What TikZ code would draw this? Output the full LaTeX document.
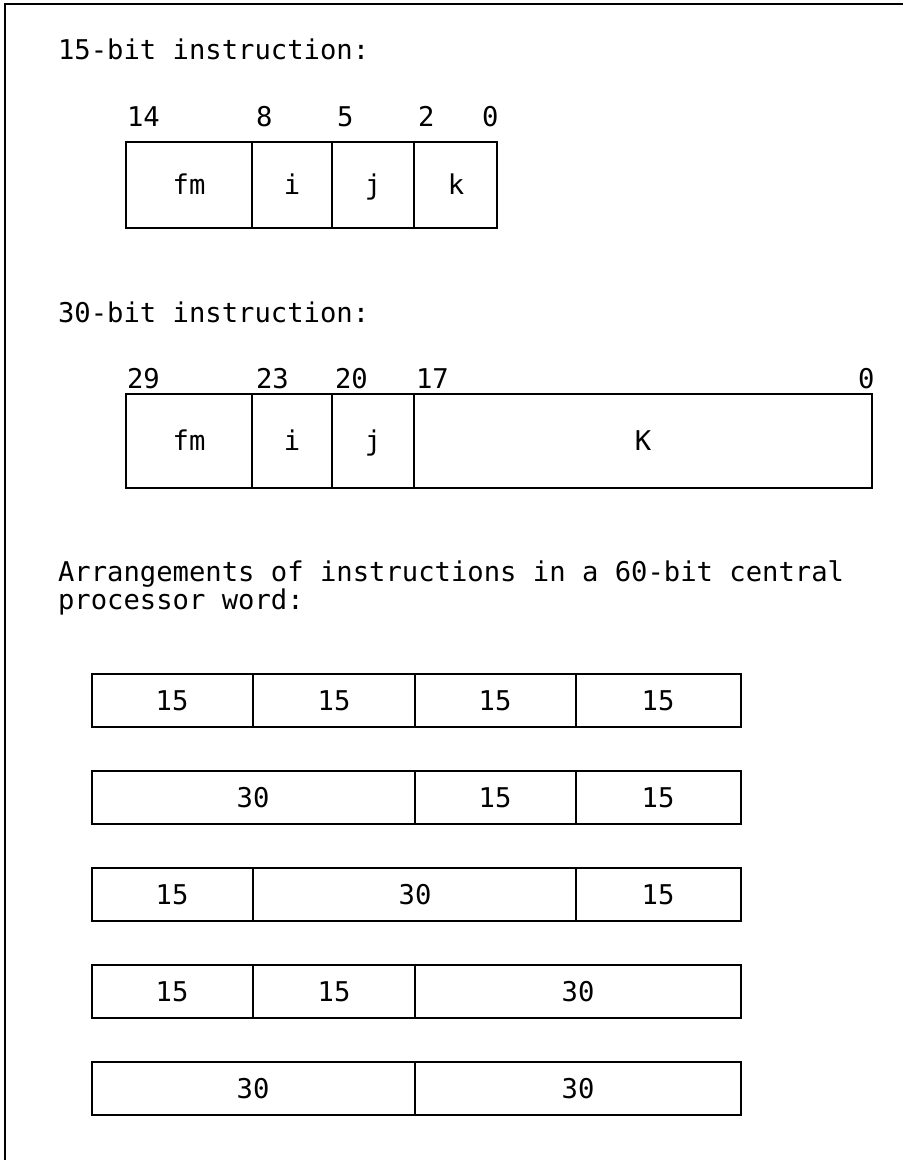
\documentclass[tikz,border=0pt]{standalone}
\usepackage{fontspec}
\setmonofont{DejaVu Sans Mono}

\tikzset{every picture/.style={line width=1.6pt}}
\tikzset{
  txt/.style={font=\ttfamily\fontsize{20.4}{27}\selectfont, inner sep=0pt, anchor=base west},
  fld/.style={font=\ttfamily\fontsize{20.4}{27}\selectfont, inner sep=0pt, anchor=base},
  outer/.style={line width=2pt}
}

\begin{document}
\begin{tikzpicture}[x=0.75pt,y=0.75pt,yscale=-1,xscale=1]
\useasboundingbox (0,0) rectangle (903,1160);

%Frame
\draw [line width=2.2pt] (5,1160) -- (5,4) -- (903,4) ;

%15-bit instruction
\node [txt] (title15) at (57,59) {15-bit instruction:};
\node [txt] (b14) at (126,126) {14};
\node [txt] (b8) at (255,126) {8};
\node [txt] (b5) at (336,126) {5};
\node [txt] (b2) at (417,126) {2};
\node [txt] (b0) at (481,126) {0};
%Shape: Rectangle
\draw [outer] (126,142) rectangle (497,228) ;
\draw   (252,142) -- (252,228) ;
\draw   (332,142) -- (332,228) ;
\draw   (414,142) -- (414,228) ;
\node [fld] (fmA) at (189,194) {fm};
\node [fld] (iA) at (292,194) {i};
\node [fld] (jA) at (373,194) {j};
\node [fld] (kA) at (456,194) {k};

%30-bit instruction
\node [txt] (title30) at (57,322) {30-bit instruction:};
\node [txt] (b29) at (126,388) {29};
\node [txt] (b23) at (255,388) {23};
\node [txt] (b20) at (334,388) {20};
\node [txt] (b17) at (415,388) {17};
\node [txt] (c0) at (857,388) {0};
%Shape: Rectangle
\draw [outer] (126,394) rectangle (872,488) ;
\draw   (252,394) -- (252,488) ;
\draw   (332,394) -- (332,488) ;
\draw   (414,394) -- (414,488) ;
\node [fld] (fmB) at (189,450) {fm};
\node [fld] (iB) at (292,450) {i};
\node [fld] (jB) at (373,450) {j};
\node [fld] (KB) at (643,450) {K};

%Arrangements
\node [txt] (arr1) at (57,581) {Arrangements of instructions in a 60-bit central};
\node [txt] (arr2) at (57,609) {processor word:};

%Row 1: 15 15 15 15
\draw [outer] (92,674) rectangle (741,727) ;
\draw   (253,674) -- (253,727) ;
\draw   (415,674) -- (415,727) ;
\draw   (576,674) -- (576,727) ;
\node [fld] (ra1) at (172,710) {15};
\node [fld] (ra2) at (334,710) {15};
\node [fld] (ra3) at (495,710) {15};
\node [fld] (ra4) at (658,710) {15};

%Row 2: 30 15 15
\draw [outer] (92,771) rectangle (741,824) ;
\draw   (415,771) -- (415,824) ;
\draw   (576,771) -- (576,824) ;
\node [fld] (rb1) at (253,807) {30};
\node [fld] (rb2) at (495,807) {15};
\node [fld] (rb3) at (658,807) {15};

%Row 3: 15 30 15
\draw [outer] (92,868) rectangle (741,921) ;
\draw   (253,868) -- (253,921) ;
\draw   (576,868) -- (576,921) ;
\node [fld] (rc1) at (172,904) {15};
\node [fld] (rc2) at (415,904) {30};
\node [fld] (rc3) at (658,904) {15};

%Row 4: 15 15 30
\draw [outer] (92,965) rectangle (741,1018) ;
\draw   (253,965) -- (253,1018) ;
\draw   (415,965) -- (415,1018) ;
\node [fld] (rd1) at (172,1001) {15};
\node [fld] (rd2) at (334,1001) {15};
\node [fld] (rd3) at (578,1001) {30};

%Row 5: 30 30
\draw [outer] (92,1062) rectangle (741,1115) ;
\draw   (415,1062) -- (415,1115) ;
\node [fld] (re1) at (253,1098) {30};
\node [fld] (re2) at (578,1098) {30};
\end{tikzpicture}
\end{document}
